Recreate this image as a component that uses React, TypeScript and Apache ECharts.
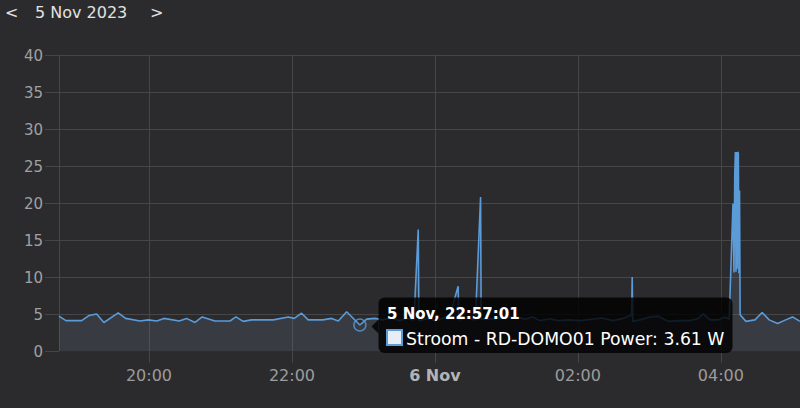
import React, { useEffect, useRef } from "react";
import * as echarts from "echarts";

const times: string[] = [
  "2023-11-05T18:44:30Z", "2023-11-05T18:50:20Z", "2023-11-05T19:03:30Z", "2023-11-05T19:09:50Z",
  "2023-11-05T19:16:05Z", "2023-11-05T19:22:10Z", "2023-11-05T19:34:10Z", "2023-11-05T19:40:25Z",
  "2023-11-05T19:52:25Z", "2023-11-05T19:59:25Z", "2023-11-05T20:06:30Z", "2023-11-05T20:12:35Z",
  "2023-11-05T20:25:25Z", "2023-11-05T20:31:35Z", "2023-11-05T20:38:35Z", "2023-11-05T20:44:40Z",
  "2023-11-05T20:55:25Z", "2023-11-05T21:08:00Z", "2023-11-05T21:13:00Z", "2023-11-05T21:19:05Z",
  "2023-11-05T21:26:10Z", "2023-11-05T21:44:20Z", "2023-11-05T21:56:55Z", "2023-11-05T22:01:55Z",
  "2023-11-05T22:08:05Z", "2023-11-05T22:13:40Z", "2023-11-05T22:25:50Z", "2023-11-05T22:33:20Z",
  "2023-11-05T22:38:55Z", "2023-11-05T22:45:55Z", "2023-11-05T22:57:01Z", "2023-11-05T23:02:40Z",
  "2023-11-05T23:09:35Z", "2023-11-05T23:16:25Z", "2023-11-05T23:23:05Z", "2023-11-05T23:29:50Z",
  "2023-11-05T23:36:30Z", "2023-11-05T23:42:25Z", "2023-11-05T23:46:00Z", "2023-11-05T23:46:35Z",
  "2023-11-05T23:54:05Z", "2023-11-06T00:00:50Z", "2023-11-06T00:07:30Z", "2023-11-06T00:11:40Z",
  "2023-11-06T00:19:30Z", "2023-11-06T00:20:05Z", "2023-11-06T00:26:50Z", "2023-11-06T00:34:00Z",
  "2023-11-06T00:38:20Z", "2023-11-06T00:38:50Z", "2023-11-06T00:46:10Z", "2023-11-06T00:57:05Z",
  "2023-11-06T01:07:05Z", "2023-11-06T01:15:30Z", "2023-11-06T01:22:10Z", "2023-11-06T01:28:05Z",
  "2023-11-06T01:36:30Z", "2023-11-06T01:43:30Z", "2023-11-06T01:51:55Z", "2023-11-06T02:01:40Z",
  "2023-11-06T02:12:50Z", "2023-11-06T02:19:55Z", "2023-11-06T02:29:35Z", "2023-11-06T02:38:00Z",
  "2023-11-06T02:45:05Z", "2023-11-06T02:45:35Z", "2023-11-06T02:46:05Z", "2023-11-06T02:52:00Z",
  "2023-11-06T03:00:25Z", "2023-11-06T03:07:25Z", "2023-11-06T03:15:50Z", "2023-11-06T03:25:35Z",
  "2023-11-06T03:34:00Z", "2023-11-06T03:41:00Z", "2023-11-06T03:45:10Z", "2023-11-06T03:50:50Z",
  "2023-11-06T03:57:50Z", "2023-11-06T04:03:25Z", "2023-11-06T04:07:00Z", "2023-11-06T04:10:10Z",
  "2023-11-06T04:11:00Z", "2023-11-06T04:11:40Z", "2023-11-06T04:12:10Z", "2023-11-06T04:12:40Z",
  "2023-11-06T04:13:10Z", "2023-11-06T04:13:40Z", "2023-11-06T04:14:10Z", "2023-11-06T04:14:40Z",
  "2023-11-06T04:15:10Z", "2023-11-06T04:15:40Z", "2023-11-06T04:16:10Z",
  "2023-11-06T04:21:00Z", "2023-11-06T04:28:35Z", "2023-11-06T04:34:40Z", "2023-11-06T04:40:35Z",
  "2023-11-06T04:47:35Z", "2023-11-06T04:54:25Z", "2023-11-06T05:00:10Z", "2023-11-06T05:06:25Z",
];

const values: number[] = [
  4.8, 4.2, 4.2, 4.9,
  5.1, 3.95, 5.25, 4.5,
  4.15, 4.3, 4.15, 4.5,
  4.15, 4.5, 3.95, 4.7,
  4.15, 4.15, 4.7, 4.1,
  4.3, 4.3, 4.7, 4.5,
  5.2, 4.3, 4.3, 4.5,
  4.15, 5.4, 3.61, 4.4,
  4.5, 4.3, 4.6, 4.2,
  4.5, 4.3, 16.5, 4.2,
  4.5, 4.2, 4.6, 4.4,
  8.85, 4.3, 4.6, 4.3,
  20.9, 4.4, 4.4, 4.6,
  4.8, 4.4, 4.7, 4.2,
  4.45, 4.2, 4.3, 4.2,
  4.4, 4.55, 4.2, 4.5,
  5.0, 10.1, 4.1, 4.3,
  4.7, 4.8, 4.1, 4.2,
  4.2, 4.5, 5.1, 4.3,
  4.3, 4.7, 4.4, 20.0,
  10.7, 24.0, 27.0, 10.8,
  27.0, 11.2, 27.0, 26.8,
  10.6, 21.8, 5.0,
  4.1, 4.3, 5.3, 4.3,
  3.8, 4.3, 4.7, 4.1,
];

const hoverTime = "2023-11-05T22:57:01Z";
const hoverValue = 3.61;
const headerTitle = "5 Nov 2023";
const tooltipTitle = "5 Nov, 22:57:01";
const seriesName = "Stroom - RD-DOMO01 Power";
const unit = "W";
const monthNames = ["Jan", "Feb", "Mar", "Apr", "May", "Jun", "Jul", "Aug", "Sep", "Oct", "Nov", "Dec"];

const FONT = "DejaVu Sans";
const BG = "#2b2b2d";
const GRID = "#464648";
const LINE = "#5b9bd8";
const TIP = "rgba(0,0,0,0.82)";

export default function App() {
  const ref = useRef<HTMLDivElement>(null);
  useEffect(() => {
    const chart = echarts.init(ref.current!, null, { renderer: "svg" });
    const ts = times.map((t) => Date.parse(t));
    const data = ts.map((t, i) => [t, values[i]]);
    const pad = (n: number) => (n < 10 ? "0" + n : "" + n);
    chart.setOption({
      animation: false,
      useUTC: true,
      backgroundColor: BG,
      textStyle: { fontFamily: FONT },
      grid: { left: 59, right: 0, top: 55.7, bottom: 56.3, containLabel: false, outerBoundsMode: "none" },
      xAxis: {
        type: "time",
        min: ts[0],
        max: ts[ts.length - 1],
        splitNumber: 4,
        axisLine: { show: true, lineStyle: { color: "#1f1f21", width: 1 } },
        axisTick: { show: true, length: 11, lineStyle: { color: GRID } },
        splitLine: { show: true, lineStyle: { color: GRID, width: 1 } },
        axisLabel: {
          color: "#9c9c9c",
          fontSize: 16,
          fontFamily: FONT,
          margin: 16,
          hideOverlap: false,
          formatter: (val: number) => {
            const d = new Date(val);
            if (d.getUTCHours() === 0 && d.getUTCMinutes() === 0) {
              return "{b|" + d.getUTCDate() + " " + monthNames[d.getUTCMonth()] + "}";
            }
            return pad(d.getUTCHours()) + ":" + pad(d.getUTCMinutes());
          },
          rich: {
            b: { fontWeight: "bold", color: "#b4b4b4", fontSize: 16, fontFamily: FONT },
          },
        },
      },
      yAxis: {
        type: "value",
        min: 0,
        max: 40,
        interval: 5,
        axisLine: { show: true, lineStyle: { color: GRID } },
        axisTick: { show: true, length: 14, lineStyle: { color: GRID } },
        splitLine: { show: true, lineStyle: { color: GRID } },
        axisLabel: { color: "#a0a0a0", fontSize: 15, fontFamily: FONT, margin: 16 },
      },
      series: [
        {
          type: "line",
          data,
          showSymbol: false,
          symbol: "none",
          lineStyle: { color: LINE, width: 1.6 },
          areaStyle: { color: "rgba(112,124,145,0.3)" },
          z: 2,
        },
        {
          type: "scatter",
          data: [[Date.parse(hoverTime), hoverValue]],
          symbol: "circle",
          symbolSize: 12,
          itemStyle: { color: "rgba(0,0,0,0)", borderColor: LINE, borderWidth: 1.5 },
          z: 3,
        },
      ],
      graphic: [
        { type: "text", x: 5, y: 12, style: { text: "<", fill: "#e2e2e2", font: `16px '${FONT}'`, verticalAlign: "middle" } },
        { type: "text", x: 35, y: 12, style: { text: headerTitle, fill: "#e2e2e2", font: `16px '${FONT}'`, verticalAlign: "middle" } },
        { type: "text", x: 150, y: 12, style: { text: ">", fill: "#e2e2e2", font: `16px '${FONT}'`, verticalAlign: "middle" } },
        { type: "polygon", z: 100, shape: { points: [[371.5, 326.5], [378.5, 319.5], [378.5, 333.5]] }, style: { fill: TIP } },
        { type: "rect", z: 100, shape: { x: 378.5, y: 297.5, width: 354, height: 55.5, r: 6 }, style: { fill: TIP } },
        { type: "text", z: 101, x: 387, y: 313.5, style: { text: tooltipTitle, fill: "#ffffff", font: `bold 15px '${FONT}'`, verticalAlign: "middle" } },
        { type: "rect", z: 101, shape: { x: 387, y: 330, width: 15, height: 15 }, style: { fill: "#e9eef6", stroke: LINE, lineWidth: 2 } },
        { type: "text", z: 101, x: 406, y: 338.5, style: { text: `${seriesName}: ${hoverValue} ${unit}`, fill: "#ffffff", font: `17.3px '${FONT}'`, verticalAlign: "middle" } },
      ],
    });
    return () => chart.dispose();
  }, []);
  return <div ref={ref} style={{ position: "fixed", left: 0, top: 0, width: 800, height: 408 }} />;
}
